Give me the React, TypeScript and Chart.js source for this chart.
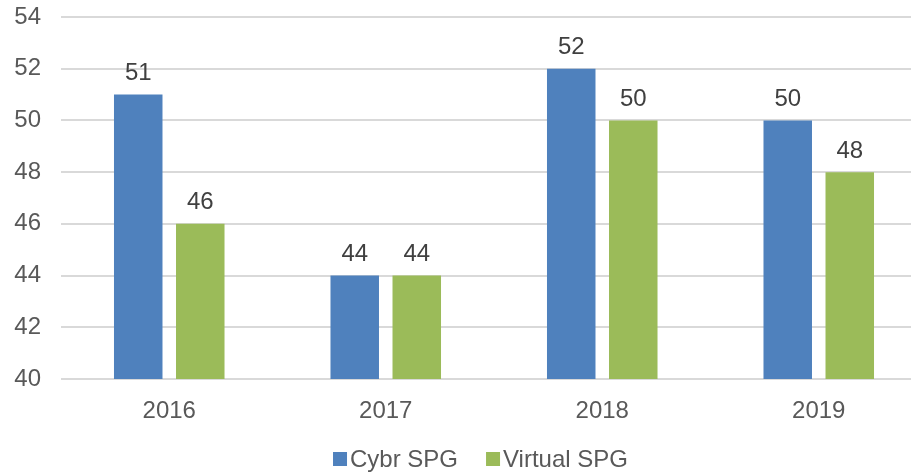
import React, { useEffect, useRef } from "react";
import { Chart, registerables } from "chart.js";

Chart.register(...registerables);

const categories = ["2016", "2017", "2018", "2019"];
const cybrSPG = [51, 44, 52, 50];
const virtualSPG = [46, 44, 50, 48];
const seriesNames = ["Cybr SPG", "Virtual SPG"];
const seriesColors = ["#4F81BD", "#9BBB59"];
const yMin = 40;
const yMax = 54;
const yStep = 2;

const FONT = "'Liberation Sans', Arial, sans-serif";

const valueLabels = {
  id: "valueLabels",
  afterDatasetsDraw(chart: any) {
    const ctx = chart.ctx;
    ctx.save();
    ctx.font = `24px ${FONT}`;
    ctx.fillStyle = "#404040";
    ctx.textAlign = "center";
    ctx.textBaseline = "bottom";
    chart.data.datasets.forEach((ds: any, i: number) => {
      const meta = chart.getDatasetMeta(i);
      meta.data.forEach((bar: any, j: number) => {
        ctx.fillText(String(ds.data[j]), bar.x, bar.y - 9);
      });
    });
    ctx.restore();
  },
};

const customLegend = {
  id: "customLegend",
  afterDraw(chart: any) {
    const ctx = chart.ctx;
    const box = 14;
    const gap = 3;
    const spacing = 28;
    ctx.save();
    ctx.font = `24px ${FONT}`;
    const items = chart.data.datasets.map((ds: any) => ({
      label: ds.label,
      color: ds.backgroundColor,
      w: ctx.measureText(ds.label).width,
    }));
    const total =
      items.reduce((s: number, it: any) => s + box + gap + it.w, 0) + spacing * (items.length - 1);
    let x = chart.width / 2 - total / 2;
    const cy = chart.height - 13;
    ctx.textBaseline = "middle";
    ctx.textAlign = "left";
    items.forEach((it: any) => {
      ctx.fillStyle = it.color;
      ctx.fillRect(x, cy - box / 2, box, box);
      ctx.fillStyle = "#595959";
      ctx.fillText(it.label, x + box + gap, cy + 1);
      x += box + gap + it.w + spacing;
    });
    ctx.restore();
  },
};

export default function App() {
  const ref = useRef<HTMLCanvasElement>(null);
  useEffect(() => {
    const chart = new Chart(ref.current!, {
      type: "bar",
      data: {
        labels: categories,
        datasets: [
          { label: seriesNames[0], data: cybrSPG, backgroundColor: seriesColors[0] },
          { label: seriesNames[1], data: virtualSPG, backgroundColor: seriesColors[1] },
        ],
      },
      options: {
        responsive: false,
        animation: false,
        layout: { padding: { top: 17, right: 34, bottom: 34, left: 0 } },
        datasets: { bar: { categoryPercentage: 0.573, barPercentage: 0.782 } },
        plugins: {
          tooltip: { enabled: false },
          legend: { display: false },
        },
        scales: {
          x: {
            grid: { display: false },
            border: { display: false },
            ticks: { color: "#595959", font: { size: 24, family: FONT }, padding: 10 },
            afterFit: (scale: any) => {
              scale.paddingLeft = 0;
              scale.paddingRight = 0;
              scale.height = 59;
            },
          },
          y: {
            min: yMin,
            max: yMax,
            ticks: { stepSize: yStep, color: "#595959", font: { size: 24, family: FONT }, padding: 20 },
            grid: { color: "#D9D9D9", lineWidth: 2, drawTicks: false },
            border: { display: false },
            afterFit: (scale: any) => {
              scale.width = 61;
              scale.paddingTop = 0;
              scale.paddingBottom = 0;
            },
          },
        },
      },
      plugins: [valueLabels, customLegend],
    });
    return () => chart.destroy();
  }, []);
  return (
    <div style={{ position: "fixed", left: 0, top: 0, width: 911, height: 472, overflow: "hidden", background: "#fff" }}>
      <canvas ref={ref} width={961} height={472} style={{ display: "block" }} />
    </div>
  );
}
